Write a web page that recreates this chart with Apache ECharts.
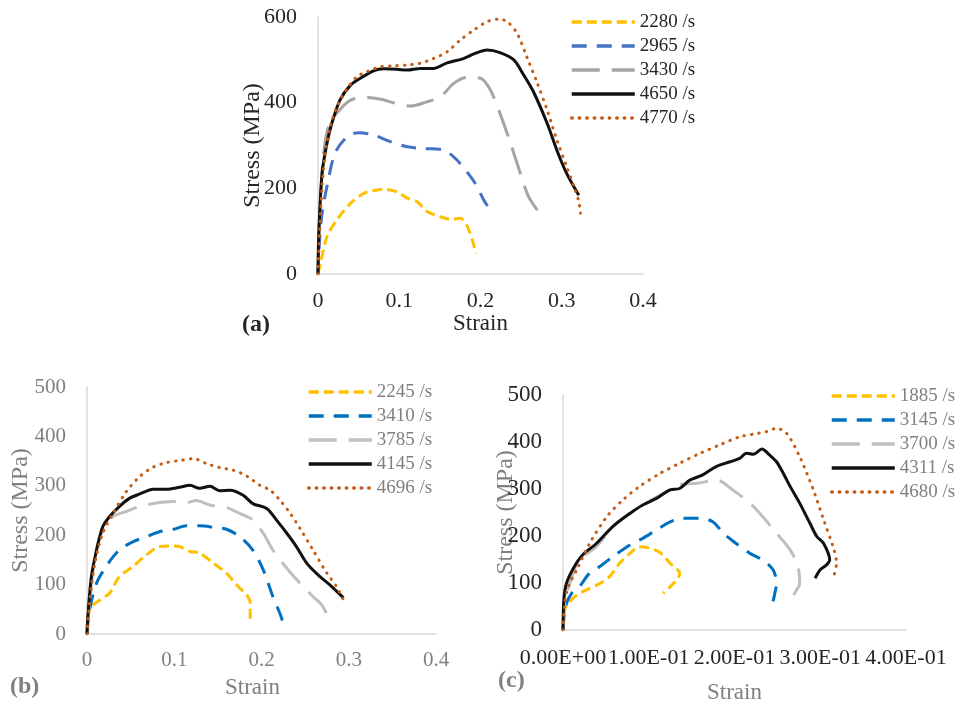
<!DOCTYPE html>
<html><head><meta charset="utf-8">
<script src="https://cdn.jsdelivr.net/npm/echarts@6/dist/echarts.min.js"></script>
<style>html,body{margin:0;padding:0;background:#fff}#c{width:958px;height:708px}</style>
</head><body><div id="c"></div>
<script>
// ---- Panel (a) ----
const namesA = ['2280 /s','2965 /s','3430 /s','4650 /s','4770 /s'];
const a2280 = [[0,0],[0.003,25],[0.011,87],[0.023,126],[0.04,165],[0.056,188],[0.069,195],[0.081,198],[0.097,192],[0.11,177],[0.122,169],[0.134,146],[0.15,134],[0.163,128],[0.175,130],[0.183,114],[0.19,79],[0.194,48]];
const a2965 = [[0,0],[0.002,79],[0.005,142],[0.011,204],[0.021,282],[0.036,321],[0.05,330],[0.069,324],[0.089,309],[0.11,297],[0.13,293],[0.155,289],[0.171,266],[0.192,216],[0.204,173],[0.212,149]];
const a3430 = [[0,0],[0.002,134],[0.007,282],[0.013,344],[0.023,375],[0.04,406],[0.06,412],[0.077,408],[0.097,398],[0.114,392],[0.134,402],[0.151,414],[0.167,445],[0.183,459],[0.2,457],[0.212,430],[0.224,375],[0.237,305],[0.249,235],[0.259,181],[0.27,149]];
const a4650 = [[0,0],[0.001,95],[0.005,235],[0.011,305],[0.017,352],[0.027,406],[0.04,441],[0.052,457],[0.069,475],[0.081,479],[0.097,478],[0.11,476],[0.126,480],[0.142,480],[0.159,493],[0.179,503],[0.192,514],[0.208,523],[0.224,517],[0.241,500],[0.253,465],[0.265,426],[0.282,352],[0.294,289],[0.306,235],[0.321,184]];
const a4770 = [[0,0],[0.002,95],[0.005,204],[0.009,282],[0.015,344],[0.025,398],[0.036,433],[0.048,461],[0.06,472],[0.077,484],[0.093,486],[0.11,488],[0.126,492],[0.142,503],[0.159,519],[0.175,546],[0.192,570],[0.208,589],[0.222,595],[0.233,589],[0.245,562],[0.257,507],[0.27,445],[0.282,383],[0.294,313],[0.306,251],[0.315,204],[0.321,169],[0.323,142]];
// ---- Panel (b) ----
const namesB = ['2245 /s','3410 /s','3785 /s','4145 /s','4696 /s'];
const b2245 = [[0,0],[0.001,36],[0.005,56],[0.015,69],[0.026,83],[0.037,116],[0.053,137],[0.068,160],[0.083,177],[0.099,178],[0.106,177],[0.118,167],[0.129,164],[0.145,143],[0.16,123],[0.171,100],[0.183,79],[0.187,63],[0.187,36],[0.188,22]];
const b3410 = [[0,0],[0.003,49],[0.011,103],[0.022,137],[0.037,170],[0.053,187],[0.068,197],[0.083,207],[0.099,212],[0.114,219],[0.129,219],[0.145,216],[0.16,212],[0.175,197],[0.19,170],[0.202,130],[0.213,76],[0.221,42],[0.227,12]];
const b3785 = [[0,0],[0.003,63],[0.009,157],[0.018,211],[0.03,238],[0.045,248],[0.06,258],[0.076,264],[0.099,268],[0.114,266],[0.125,270],[0.141,261],[0.16,256],[0.175,244],[0.19,231],[0.202,204],[0.213,170],[0.229,133],[0.244,103],[0.259,76],[0.269,59],[0.278,29]];
const b4145 = [[0,0],[0.001,36],[0.005,116],[0.011,170],[0.018,217],[0.026,238],[0.037,258],[0.049,275],[0.06,283],[0.076,293],[0.091,293],[0.106,297],[0.118,301],[0.129,295],[0.141,299],[0.152,290],[0.164,291],[0.179,281],[0.19,264],[0.206,254],[0.217,231],[0.229,204],[0.24,177],[0.252,143],[0.267,116],[0.278,100],[0.294,73]];
const b4696 = [[0,0],[0.003,63],[0.009,143],[0.018,204],[0.03,244],[0.045,288],[0.06,318],[0.076,338],[0.091,347],[0.106,351],[0.122,355],[0.137,345],[0.152,337],[0.167,332],[0.183,320],[0.198,301],[0.21,291],[0.221,271],[0.233,244],[0.244,214],[0.259,170],[0.275,123],[0.286,96],[0.294,69]];
// ---- Panel (c) ----
const namesC = ['1885 /s','3145 /s','3700 /s','4311 /s','4680 /s'];
const c1885 = [[0,0],[0.002,43],[0.006,57],[0.016,74],[0.027,85],[0.043,99],[0.054,113],[0.066,142],[0.078,163],[0.089,177],[0.101,174],[0.113,165],[0.125,142],[0.136,121],[0.134,110],[0.125,92],[0.117,78]];
const c3145 = [[0,0],[0.003,50],[0.01,78],[0.019,92],[0.031,121],[0.043,135],[0.058,156],[0.078,181],[0.093,195],[0.109,213],[0.125,230],[0.14,238],[0.16,238],[0.175,230],[0.187,206],[0.202,184],[0.218,163],[0.233,149],[0.245,128],[0.249,99],[0.247,78],[0.244,53]];
const c3700 = [[0,0],[0.002,57],[0.008,99],[0.019,149],[0.039,177],[0.058,220],[0.078,248],[0.097,270],[0.117,291],[0.136,309],[0.156,312],[0.179,319],[0.198,298],[0.218,270],[0.233,241],[0.249,206],[0.265,170],[0.274,135],[0.276,99],[0.27,78],[0.265,57]];
const c4311 = [[0,0],[0.001,64],[0.004,99],[0.012,131],[0.023,160],[0.039,184],[0.058,220],[0.078,248],[0.093,266],[0.109,280],[0.125,298],[0.136,301],[0.148,319],[0.163,330],[0.179,348],[0.195,358],[0.206,365],[0.214,376],[0.222,374],[0.232,385],[0.241,372],[0.249,358],[0.257,333],[0.265,305],[0.276,270],[0.288,227],[0.296,199],[0.304,184],[0.311,149],[0.307,138],[0.3,128],[0.294,110]];
const c4680 = [[0,0],[0.002,57],[0.006,92],[0.016,128],[0.031,184],[0.051,241],[0.07,277],[0.089,305],[0.113,333],[0.136,355],[0.16,376],[0.183,394],[0.206,411],[0.226,418],[0.237,422],[0.249,429],[0.261,418],[0.276,369],[0.292,298],[0.304,234],[0.315,177],[0.319,142],[0.315,110]];

const FONT = 'Liberation Serif';
const DARK = '#262626', GREY = '#808080', AXIS = '#d9d9d9';
const styles = [
  {color:'#FFC000', type:[10,5]},
  {color:'#4472C4', type:[15,10]},
  {color:'#A5A5A5', type:[28,12]},
  {color:'#111111', type:'solid'},
  {color:'#C55A11', type:[0.5,7], cap:'round'}
];
const stylesB = [
  {color:'#FFC000', type:[10,5]},
  {color:'#0070C0', type:[15,10]},
  {color:'#BFBFBF', type:[28,12]},
  {color:'#111111', type:'solid'},
  {color:'#C55A11', type:[0.5,7], cap:'round'}
];

function mkSeries(names, datas, st, idx){
  return names.map((n,i)=>({
    name:n, type:'line', xAxisIndex:idx, yAxisIndex:idx, data:datas[i],
    showSymbol:false, symbol:'none', smooth:0.3,
    lineStyle:{width:3, color:st[i].color, type:st[i].type, cap:st[i].cap||'butt'},
    itemStyle:{color:st[i].color}
  }));
}
function xAx(idx, labColor, fs, fmt, nameGap, labMargin, namePad){
  return {type:'value', gridIndex:idx, min:0, max:0.4, interval:0.1,
    name:'Strain', nameLocation:'middle', nameGap:nameGap, nameMoveOverlap:false,
    nameTextStyle:{fontFamily:FONT, fontSize:23, color: idx===0?DARK:GREY, padding:namePad},
    axisLine:{show:true, lineStyle:{color:AXIS, width:1.5}}, axisTick:{show:false}, splitLine:{show:false},
    axisLabel:{fontFamily:FONT, fontSize:fs, color:labColor, margin:labMargin, formatter:fmt,
      hideOverlap:false, showMinLabel:true, showMaxLabel:true}};
}
function yAx(idx, max, interval, labColor, fs, nameGap, nameColor){
  return {type:'value', gridIndex:idx, min:0, max:max, interval:interval,
    name:'Stress (MPa)', nameLocation:'middle', nameGap:nameGap, nameMoveOverlap:false,
    nameTextStyle:{fontFamily:FONT, fontSize:24, color:nameColor},
    axisLine:{show:true, lineStyle:{color:AXIS, width:1.5}}, axisTick:{show:false}, splitLine:{show:false},
    axisLabel:{fontFamily:FONT, fontSize:fs, color:labColor, margin:21, showMinLabel:true, showMaxLabel:true}};
}
const fmtPlain = v => String(+v.toFixed(2));
const fmtExp = v => v.toExponential(2).replace(/e([+-])(\d)$/, 'E$10$2').toUpperCase();

function legend(names, left, top, color){
  return {left:left, top:top, orient:'vertical', data:names, itemWidth:63, itemHeight:20, itemGap:4,
    selectedMode:false,
    itemStyle:{opacity:0, borderWidth:0},
    lineStyle:{width:3.5},
    textStyle:{fontFamily:FONT, fontSize:19, color:color, lineHeight:20}};
}

const chart = echarts.init(document.getElementById('c'), null, {renderer:'canvas'});
chart.setOption({
  backgroundColor:'#fff',
  animation:false,
  grid:[
    {left:318, top:17, width:325, height:257},
    {left:87, top:387, width:349, height:247},
    {left:563, top:395, width:343, height:235}
  ],
  xAxis:[
    xAx(0, DARK, 22, fmtPlain, 38, 16, 0),
    xAx(1, GREY, 21, fmtPlain, 42, 16, [0,18,0,0]),
    xAx(2, DARK, 22, fmtExp, 51, 17, 0)
  ],
  yAxis:[
    yAx(0, 600, 200, DARK, 22, 53, DARK),
    yAx(1, 500, 100, GREY, 21, 54, GREY),
    yAx(2, 500, 100, DARK, 23, 45, GREY)
  ],
  legend:[
    legend(namesA, 565, 7, DARK),
    legend(namesB, 302, 377, GREY),
    legend(namesC, 825, 381, GREY)
  ],
  graphic:[
    {type:'text', left:242, top:313, style:{text:'(a)', font:'bold 24px "Liberation Serif"', fill:DARK}},
    {type:'text', left:10, top:675, style:{text:'(b)', font:'bold 24px "Liberation Serif"', fill:GREY}},
    {type:'text', left:498, top:669, style:{text:'(c)', font:'bold 24px "Liberation Serif"', fill:GREY}}
  ],
  series:[].concat(
    mkSeries(namesA, [a2280,a2965,a3430,a4650,a4770], styles, 0),
    mkSeries(namesB, [b2245,b3410,b3785,b4145,b4696], stylesB, 1),
    mkSeries(namesC, [c1885,c3145,c3700,c4311,c4680], stylesB, 2)
  )
});
</script></body></html>
